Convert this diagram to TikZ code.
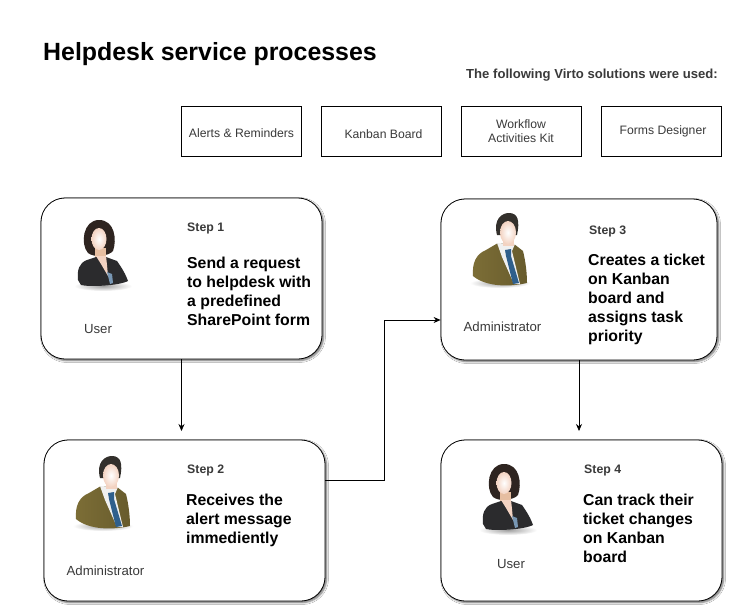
\documentclass[tikz,border=0pt]{standalone}
\usepackage{fontspec}
\setmainfont{Liberation Sans}
\usetikzlibrary{arrows.meta,shadows.blur}
\definecolor{txtgray}{HTML}{3A3A3A}
\definecolor{suitdark}{HTML}{2B2B2D}
\definecolor{suitolive}{HTML}{8A7A3C}
\definecolor{skin}{HTML}{F3D3C2}
\definecolor{tieblue}{HTML}{2F5F8C}
\definecolor{hairdark}{HTML}{2E2420}
\definecolor{hairman}{HTML}{33302C}
\tikzset{
  x=1pt,y=-1pt,
  card/.style={draw=black,line width=0.8pt,rounded corners=24pt,fill=white,
    blur shadow={shadow xshift=1.5pt,shadow yshift=-1.5pt,shadow blur steps=5,shadow blur radius=2pt,shadow opacity=60}},
  toolbox/.style={draw=black,line width=0.8pt,fill=white},
  toollabel/.style={font=\fontsize{12.2}{14.5}\selectfont,text=txtgray,align=center,inner sep=0pt},
  steplabel/.style={font=\fontsize{12.3}{14}\selectfont\bfseries,text=txtgray,anchor=west,inner sep=0pt},
  bodylabel/.style={font=\fontsize{15.8}{19}\selectfont\bfseries,text=black,anchor=north west,align=left,inner sep=0pt},
  rolelabel/.style={font=\fontsize{13.2}{15}\selectfont,text=txtgray,inner sep=0pt},
  flow/.style={draw=black,line width=0.7pt,-{Stealth[length=7pt,width=6pt]}},
  facefill/.style={inner color=white,outer color=skin},
  woman/.pic={
    \shade[inner color=gray!75,outer color=white] (0,38) ellipse (29 and 5);
    \fill[hairdark] (-15,5) .. controls (-23,-4) and (-20,-28) .. (-4,-28) .. controls (12,-28) and (14,-8) .. (10,3) .. controls (6,8) and (-9,10) .. (-15,5) -- cycle;
    \fill[skin!75!brown] (-8,0) rectangle (3,16);
    \fill[suitdark] (-25,32) .. controls (-26,22) and (-24,15) .. (-16,12) -- (-7,9) -- (3,9) -- (14,13) .. controls (19,20) and (23,27) .. (25,33) .. controls (15,38) and (-14,39) .. (-22,37) -- cycle;
    \fill[skin] (-7,8) -- (3,8) -- (4,17) -- (5,28) -- (-2,16) -- cycle;
    \fill[tieblue!65!white] (4,24) -- (9,26) -- (10,35) -- (7,36) -- cycle;
    \shade[facefill] (-4,-9) ellipse (7.5 and 11);
  },
  man/.pic={
    \shade[inner color=gray!75,outer color=white] (0,40) ellipse (30 and 5);
    \shade[left color=suitolive!90!black,right color=suitolive!75!black] (-27,33) .. controls (-28,20) and (-24,11) .. (-14,7) -- (-2,0) -- (14,1) -- (23,8) .. controls (26,20) and (27,32) .. (27,40) .. controls (10,44) and (-14,44) .. (-27,33) -- cycle;
    \fill[white!88!gray] (-3,0) -- (15,1) -- (12,8) -- (20,41) -- (14,41) -- (2,14) -- cycle;
    \fill[tieblue] (5,7) -- (11,6) -- (11,13) -- (19,40) -- (13,41) -- (6,13) -- cycle;
    \fill[hairman] (-3,-8) .. controls (-7,-24) and (2,-30) .. (9,-30) .. controls (18,-30) and (20,-22) .. (17,-8) -- cycle;
    \fill[skin] (3,-8) rectangle (14,3);
    \shade[facefill] (8,-10.5) ellipse (8 and 11.5);
  }
}
\begin{document}
\begin{tikzpicture}
\useasboundingbox (0,0) rectangle (733,605);
\fill[white] (0,0) rectangle (733,605);

\node[anchor=west,inner sep=0pt,font=\fontsize{24.9}{28}\selectfont\bfseries] (title) at (43,54) {Helpdesk service processes};
\node[anchor=east,inner sep=0pt,font=\fontsize{13.1}{15}\selectfont\bfseries,text=txtgray] (used) at (718,75) {The following Virto solutions were used:};

\node[toolbox,minimum width=120pt,minimum height=50pt,inner sep=0pt] (alerts) at (241,131) {};
\node[toolbox,minimum width=120pt,minimum height=50pt,inner sep=0pt] (kanban) at (381,131) {};
\node[toolbox,minimum width=120pt,minimum height=50pt,inner sep=0pt] (workflow) at (521,131) {};
\node[toolbox,minimum width=120pt,minimum height=50pt,inner sep=0pt] (forms) at (661,131) {};
\node[toollabel] (alertsT) at (241.5,133) {Alerts \& Reminders};
\node[toollabel] (kanbanT) at (383.5,134) {Kanban Board};
\node[toollabel] (workflowT) at (521,131) {Workflow\\Activities Kit};
\node[toollabel] (formsT) at (663,131) {Forms Designer};

\node[card,minimum width=281pt,minimum height=161pt,inner sep=0pt] (s1) at (181.5,278.5) {};
\node[card,minimum width=281pt,minimum height=161pt,inner sep=0pt] (s2) at (184.5,520.5) {};
\node[card,minimum width=276pt,minimum height=161pt,inner sep=0pt] (s3) at (579,279.5) {};
\node[card,minimum width=281pt,minimum height=161pt,inner sep=0pt] (s4) at (581.5,520.5) {};

\pic at (103,248) {woman};
\pic at (103,486) {man};
\pic at (500,243) {man};
\pic at (508,492) {woman};

\node[rolelabel] (r1) at (98,329) {User};
\node[rolelabel] (r2) at (105.5,571) {Administrator};
\node[rolelabel] (r3) at (502.5,327) {Administrator};
\node[rolelabel] (r4) at (511,564) {User};

\node[steplabel] (t1) at (187,228) {Step 1};
\node[steplabel] (t2) at (187,470) {Step 2};
\node[steplabel] (t3) at (589,231) {Step 3};
\node[steplabel] (t4) at (584,470) {Step 4};

\node[bodylabel] (b1) at (187,257) {Send a request\\to helpdesk with\\a predefined\\SharePoint form};
\node[bodylabel] (b2) at (186,494) {Receives the\\alert message\\immediently};
\node[bodylabel] (b3) at (588,254) {Creates a ticket\\on Kanban\\board and\\assigns task\\priority};
\node[bodylabel] (b4) at (583,494) {Can track their\\ticket changes\\on Kanban\\board};

\coordinate (e12) at (181.5,431);
\coordinate (e34) at (579,431);
\coordinate (leave) at (325,480);
\coordinate (bend) at (384,320);
\draw[flow] (s1.south) -- (e12);
\draw[flow] (s3.south) -- (e34);
\draw[flow] (s2.east |- leave) -| (bend) -- (s3.west |- bend);
\end{tikzpicture}
\end{document}
